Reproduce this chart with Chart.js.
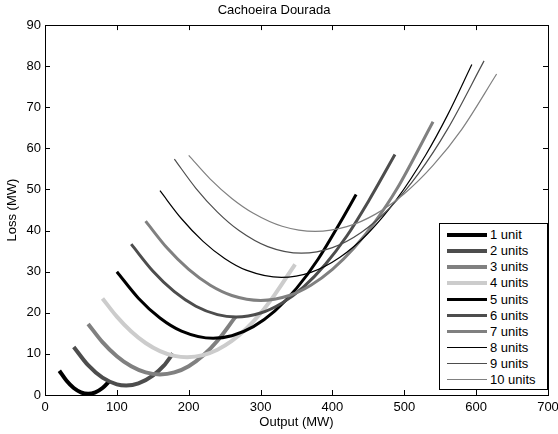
<!DOCTYPE html>
<html lang="en">
<head>
  <meta charset="UTF-8" />
  <title>Cachoeira Dourada</title>
  <script src="https://cdn.jsdelivr.net/npm/chart.js"></script>
  <style>
    body { margin: 0; background: #fff; font-family: "Liberation Sans", Arial, sans-serif; }
    #wrap { position: relative; width: 558px; height: 434px; }
    #legend { position: absolute; left: 439px; top: 223px; width: 109px; height: 167px;
      box-sizing: border-box; border: 1px solid #000; background: #fff; }
    .row { position: absolute; left: 0; height: 16px; font-size: 13px; line-height: 16px; color: #000; }
    .row span.sw { position: absolute; left: 7px; width: 40px; top: 8px; }
    .row span.tx { position: absolute; left: 50px; top: 0; white-space: nowrap; }
  </style>
</head>
<body>
  <div id="wrap">
    <canvas id="lossChart" width="558" height="434"></canvas>
    <div id="legend"></div>
  </div>

  <script>
    // loss curves, one [output, loss] list per number of units
    const unitLabels = ['1 unit', '2 units', '3 units', '4 units', '5 units', '6 units', '7 units', '8 units', '9 units', '10 units'];

    const output1 = [20, 30, 40, 50, 60, 70, 80, 90];
    const loss1   = [5.9, 3.45, 1.7, 0.65, 0.3, 0.65, 1.7, 3.45];

    const output2 = [40, 60, 80, 100, 113, 130, 150, 165, 178];
    const loss2   = [11.7, 7.25, 4.22, 2.6, 2.3, 2.81, 4.71, 7.07, 10.1];

    const output3 = [60, 80, 100, 120, 140, 160, 180, 200, 220, 240, 265];
    const loss3   = [17.3, 12.87, 9.43, 6.97, 5.49, 5.0, 5.49, 7.0, 9.6, 13.2, 19.0];

    const output4 = [80, 100, 120, 140, 160, 180, 198, 220, 240, 260, 280, 300, 320, 348];
    const loss4   = [23.5, 19.06, 15.45, 12.65, 10.68, 9.53, 9.2, 9.7, 11.01, 13.15, 16.11, 19.88, 24.49, 31.8];

    const output5 = [100, 130, 160, 190, 234, 260, 290, 320, 350, 380, 410, 433];
    const loss5   = [30.0, 23.56, 18.74, 15.55, 13.8, 14.41, 16.63, 20.47, 25.94, 33.03, 41.74, 48.8];

    const output6 = [120, 150, 180, 210, 240, 266, 300, 330, 360, 390, 420, 450, 487];
    const loss6   = [36.7, 30.17, 25.14, 21.6, 19.56, 19.0, 19.96, 22.4, 26.33, 31.76, 38.68, 47.1, 58.5];

    const output7 = [140, 170, 200, 230, 260, 300, 340, 370, 400, 430, 460, 490, 540];
    const loss7   = [42.3, 35.74, 30.54, 26.69, 24.21, 23.0, 24.21, 26.69, 30.54, 35.74, 42.3, 50.22, 66.5];

    const output8 = [160, 190, 220, 250, 280, 329, 370, 410, 450, 490, 530, 560, 594];
    const loss8   = [49.7, 42.88, 37.38, 33.21, 30.37, 28.6, 29.84, 33.45, 39.42, 47.76, 58.46, 68.03, 80.4];

    const output9 = [180, 210, 240, 270, 310, 357, 400, 440, 480, 520, 560, 611];
    const loss9   = [57.4, 50.3, 44.51, 40.03, 36.11, 34.5, 35.85, 39.54, 45.56, 53.92, 64.62, 81.3];

    const output10 = [200, 230, 260, 290, 330, 376, 420, 460, 500, 540, 580, 628.5];
    const loss10   = [58.3, 52.53, 47.83, 44.22, 41.06, 39.8, 40.96, 44.01, 48.98, 55.86, 64.64, 78.1];

    const xTicks = [0, 100, 200, 300, 400, 500, 600, 700];
    const yTicks = [0, 10, 20, 30, 40, 50, 60, 70, 80, 90];

    const lineColors = ['#000000', '#4d4d4d', '#808080', '#cccccc', '#000000', '#4d4d4d', '#808080', '#000000', '#4d4d4d', '#808080'];
    const lineWidths = [4, 4, 4, 4, 3, 3, 3, 1.2, 1.2, 1.2];

    const outputs = [output1, output2, output3, output4, output5, output6, output7, output8, output9, output10];
    const losses = [loss1, loss2, loss3, loss4, loss5, loss6, loss7, loss8, loss9, loss10];

    const datasets = unitLabels.map((label, i) => ({
      label: label,
      data: outputs[i].map((x, j) => ({ x: x, y: losses[i][j] })),
      borderColor: lineColors[i],
      borderWidth: lineWidths[i],
      pointRadius: 0,
      fill: false,
      cubicInterpolationMode: 'monotone',
      order: -i
    }));

    // matlab style box with inward ticks on all four sides
    const boxPlugin = {
      id: 'boxTicks',
      afterDraw(chart) {
        const { ctx, chartArea: a, scales } = chart;
        const len = 5;
        ctx.save();
        ctx.strokeStyle = '#000';
        ctx.lineWidth = 1;
        ctx.beginPath();
        xTicks.forEach(v => {
          const px = Math.round(scales.x.getPixelForValue(v)) + 0.5;
          ctx.moveTo(px, a.bottom); ctx.lineTo(px, a.bottom - len);
          ctx.moveTo(px, a.top); ctx.lineTo(px, a.top + len);
        });
        yTicks.forEach(v => {
          const py = Math.round(scales.y.getPixelForValue(v)) + 0.5;
          ctx.moveTo(a.left, py); ctx.lineTo(a.left + len, py);
          ctx.moveTo(a.right, py); ctx.lineTo(a.right - len, py);
        });
        ctx.stroke();
        ctx.strokeRect(Math.round(a.left) + 0.5, Math.round(a.top) + 0.5, Math.round(a.right - a.left), Math.round(a.bottom - a.top));
        ctx.restore();
      }
    };

    const font = { family: '"Liberation Sans", Arial, sans-serif', size: 13 };

    new Chart(document.getElementById('lossChart'), {
      type: 'line',
      data: { datasets: datasets },
      options: {
        responsive: false,
        animation: false,
        devicePixelRatio: 1,
        layout: { padding: { left: 0, right: 10, top: 0, bottom: 0 } },
        plugins: {
          legend: { display: false },
          tooltip: { enabled: false },
          title: {
            display: true,
            text: 'Cachoeira Dourada',
            color: '#000',
            font: { family: font.family, size: 13, weight: 'normal' },
            padding: { top: 2.5, bottom: 7 }
          }
        },
        scales: {
          x: {
            type: 'linear',
            min: 0, max: 700,
            afterFit: s => { s.height = 39; s.paddingLeft = 0; s.paddingRight = 0; },
            afterBuildTicks: s => { s.ticks = xTicks.map(v => ({ value: v })); },
            grid: { display: false, drawTicks: false },
            border: { display: false },
            ticks: { color: '#000', font: font, padding: 5, maxRotation: 0 },
            title: { display: true, text: 'Output (MW)', color: '#000', font: font, padding: { top: 0, bottom: 3.5 } }
          },
          y: {
            min: 0, max: 90,
            afterFit: s => { s.width = 45; s.paddingTop = 0; s.paddingBottom = 0; },
            afterBuildTicks: s => { s.ticks = yTicks.map(v => ({ value: v })); },
            grid: { display: false, drawTicks: false },
            border: { display: false },
            ticks: { color: '#000', font: font, padding: 4 },
            title: { display: true, text: 'Loss (MW)', color: '#000', font: font, padding: { top: 4.2, bottom: 0 } }
          }
        }
      },
      plugins: [boxPlugin]
    });

    // legend box inside the plot, lower right
    const legend = document.getElementById('legend');
    unitLabels.forEach((label, i) => {
      const row = document.createElement('div');
      row.className = 'row';
      row.style.top = (3.3 + i * 16.05) + 'px';
      row.innerHTML = `<span class="sw" style="border-top:${lineWidths[i]}px solid ${lineColors[i]};margin-top:-${lineWidths[i] / 2}px"></span><span class="tx">${label}</span>`;
      legend.appendChild(row);
    });
  </script>
</body>
</html>
